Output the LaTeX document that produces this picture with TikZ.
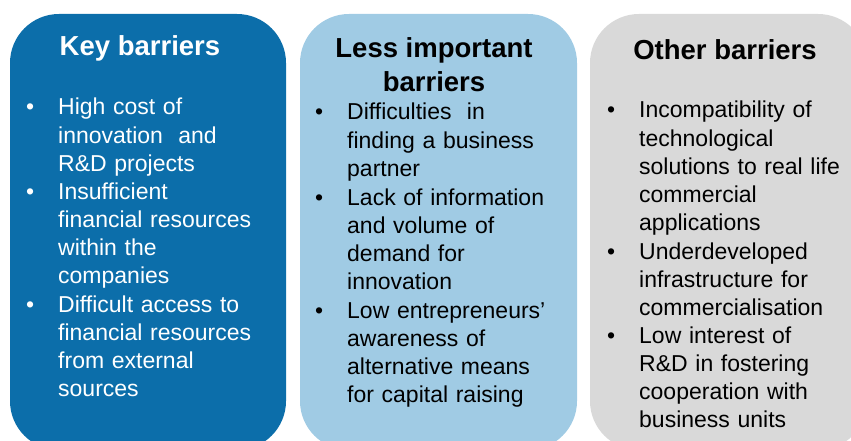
\documentclass[tikz,border=0pt]{standalone}
\usepackage{fontspec}
\setmainfont{Liberation Sans}
\definecolor{keyblue}{RGB}{12,110,170}
\definecolor{lessblue}{RGB}{160,203,228}
\definecolor{othergrey}{RGB}{217,217,217}
\newcommand{\bl}{\llap{\textbullet\hspace{24pt}}}
\tikzset{
  panel/.style={rounded corners=49pt, draw=none},
  ttl/.style={font=\fontsize{27.5}{34}\selectfont\bfseries, align=center, inner sep=0pt, anchor=base},
  item/.style={font=\fontsize{23}{28.2}\selectfont, text width=260pt, align=left, inner sep=0pt, anchor=base west}
}
\begin{document}
\begin{tikzpicture}[x=1pt,y=-1pt]
\useasboundingbox (0,0) rectangle (851,441);
\clip (0,0) rectangle (851,441);
\fill[panel, keyblue] (10,14) rectangle (286,450);
\fill[panel, lessblue] (300,14) rectangle (577,450);
\fill[panel, othergrey] (590,14) rectangle (867,450);

\node[ttl, text=white] (t1) at (140,56) {Key barriers};
\node[ttl] (t2) at (434,92) {Less important\\barriers};
\node[ttl] (t3) at (725,60) {Other barriers};

\node[item, text=white] (k1) at (58,115) {\bl High cost of\\innovation\ \ and\\R\&D projects};
\node[item, text=white] (k2) at (58,199) {\bl Insufficient\\financial resources\\within the\\companies};
\node[item, text=white] (k3) at (58,312) {\bl Difficult access to\\financial resources\\from external\\sources};

\node[item] (l1) at (347,120) {\bl Difficulties\ \ in\\finding a business\\partner};
\node[item] (l2) at (347,205) {\bl Lack of information\\and volume of\\demand for\\innovation};
\node[item] (l3) at (347,318) {\bl Low entrepreneurs’\\awareness of\\alternative means\\for capital raising};

\node[item] (o1) at (639,118) {\bl Incompatibility of\\technological\\solutions to real life\\commercial\\applications};
\node[item] (o2) at (639,259) {\bl Underdeveloped\\infrastructure for\\commercialisation};
\node[item] (o3) at (639,343) {\bl Low interest of\\R\&D in fostering\\cooperation with\\business units};
\end{tikzpicture}
\end{document}
